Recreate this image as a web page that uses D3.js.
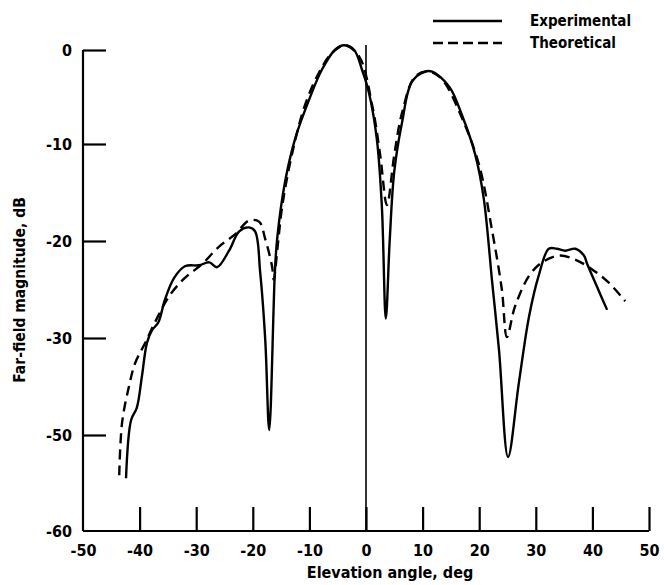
<html>
<head>
<meta charset="utf-8">
<style>
  body { margin: 0; background: white; }
  text { font-family: "DejaVu Sans Condensed", "Liberation Sans Narrow", sans-serif; fill: black; }
</style>
<script src="https://cdn.jsdelivr.net/npm/d3@7"></script>
</head>
<body>
<svg id="chart"></svg>
<script>

// elevation angle (deg), far-field magnitude (dB)
let expAngle = [-42.4, -41.5, -40.5, -39.6, -38.7, -37.8, -36.7, -35.5, -33.9, -32, -29.5, -27.7, -26.3, -24.2,
  -22.4, -20.7, -19.6, -18.7, -17.8, -17.1, -16.1, -15.7, -14.3, -12.5, -10, -7.8, -5.5, -3.9, -2.1, -0.7,
  0.5, 1.9, 2.8, 3.5, 4.2, 5, 6.4, 8.1, 10.4, 11.7, 14.7, 17, 19.3, 20.8, 22.3, 23.5, 25.1, 27, 28.8,
  30.5, 32.3, 33.7, 35.2, 37, 38.5, 39.1, 40.8, 42.6]
let expDb = [-54.5, -46.9, -44.4, -38, -31, -29.2, -28.4, -26, -23.8, -22.6, -22.5, -22.2, -22.7, -21,
  -19, -18.6, -19, -23.2, -30.4, -49, -23.2, -19.8, -13.9, -9.4, -5.2, -2.1, 0, 0.5, 0, -2.1,
  -4.5, -9.4, -16.4, -28, -19.8, -12.8, -7.6, -3.4, -2.3, -2.3, -3.9, -7, -11.1, -15.6, -24.3, -32.5, -52.3, -39.3, -27.8,
  -23.6, -20.8, -20.8, -21, -20.8, -21.5, -22.4, -24.7, -27.1]

let thAngle = [-43.6, -43.1, -41.9, -40.8, -39, -37.3, -34.8, -32, -29, -26, -23.1, -20.7, -18.9, -17.8, -16.6,
  -16.3, -15.6, -14.8, -13.1, -10.8, -8.3, -6, -3.7, -1.2, 1.1, 2.5, 3.7, 5, 6.4, 8.7, 11.1, 13.4, 17,
  20, 22.3, 24, 24.9, 26.3, 28.8, 31.1, 34.1, 36.9, 39.9, 42.9, 45.8]
let thDb = [-54.2, -47.5, -40.1, -35.2, -31, -28.4, -25.7, -23.8, -22.4, -20.6, -19.3, -17.9, -18, -19.8, -22.6,
  -24, -20.5, -16.4, -11.1, -5.9, -2.4, -0.3, 0.5, -0.7, -5.9, -11.1, -16.3, -11.1, -6.6, -2.8, -2.3, -3.1, -7.3,
  -12.2, -19, -25, -29.9, -26.8, -23.6, -22.2, -21.5, -21.9, -22.9, -24.3, -26.2]

let xTicks = [-50, -40, -30, -20, -10, 0, 10, 20, 30, 40, 50]
let yTicks = [0, -10, -20, -30, -50, -60]

let width = 664
let height = 585
let svg = d3.select("#chart").attr("width", width).attr("height", height)

let x = d3.scaleLinear().domain([-50, 50]).range([83, 649])
// the printed axis jumps from -30 to -50 in one step
let y = d3.scaleLinear().domain(yTicks).range([50, 144, 241, 338, 435, 531])

let xAxis = d3.axisBottom(x).tickValues(xTicks).tickSize(-24).tickPadding(14).tickFormat(d => String(d))
let gx = svg.append("g").attr("transform", "translate(0," + y(-60) + ")").call(xAxis)

let yAxis = d3.axisLeft(y).tickValues(yTicks).tickSize(-23).tickPadding(11).tickFormat(d => String(d))
let gy = svg.append("g").attr("transform", "translate(" + x(-50) + ",0)").call(yAxis)

for (let g of [gx, gy]) {
  g.select(".domain").attr("stroke-width", 2.2)
  g.selectAll(".tick line").attr("stroke-width", 2.2)
  g.selectAll(".tick text").style("font-size", "16px").style("font-family", "DejaVu Sans Condensed")
    .attr("font-weight", "bold")
}
gx.selectAll(".tick").filter(d => d == -50).select("line").remove()
gy.selectAll(".tick").filter(d => d == -60).select("line").remove()
gx.select(".domain").attr("d", "M" + x(-50) + ",0H" + x(50))
gy.select(".domain").attr("d", "M0," + y(0) + "V" + y(-60))

// zero elevation line
svg.append("line")
  .attr("x1", x(0)).attr("x2", x(0))
  .attr("y1", 45).attr("y2", y(-60))
  .attr("stroke", "black").attr("stroke-width", 1.6)

let line = d3.line().x(d => x(d[0])).y(d => y(d[1])).curve(d3.curveCatmullRom.alpha(0.5))

svg.append("path")
  .datum(d3.zip(thAngle, thDb))
  .attr("d", line)
  .attr("fill", "none").attr("stroke", "black").attr("stroke-width", 2.4)
  .attr("stroke-dasharray", "10,6")

svg.append("path")
  .datum(d3.zip(expAngle, expDb))
  .attr("d", line)
  .attr("fill", "none").attr("stroke", "black").attr("stroke-width", 2.4)
  .attr("stroke-linejoin", "round")

// legend
let legend = [["Experimental", null, 21], ["Theoretical", "10,5", 43]]
for (let [name, dash, ly] of legend) {
  svg.append("line").attr("x1", 433).attr("x2", 502).attr("y1", ly).attr("y2", ly)
    .attr("stroke", "black").attr("stroke-width", 2.4).attr("stroke-dasharray", dash)
  svg.append("text").attr("x", 530).attr("y", ly + 5).text(name)
    .style("font-size", "15px").attr("font-weight", "bold")
}

svg.append("text")
  .attr("x", 390).attr("y", 578).attr("text-anchor", "middle")
  .style("font-size", "16px").attr("font-weight", "bold")
  .text("Elevation angle, deg")

svg.append("text")
  .attr("transform", "translate(25,290) rotate(-90)").attr("text-anchor", "middle")
  .style("font-size", "15.5px").attr("font-weight", "bold")
  .text("Far-field magnitude, dB")

</script>
</body>
</html>
